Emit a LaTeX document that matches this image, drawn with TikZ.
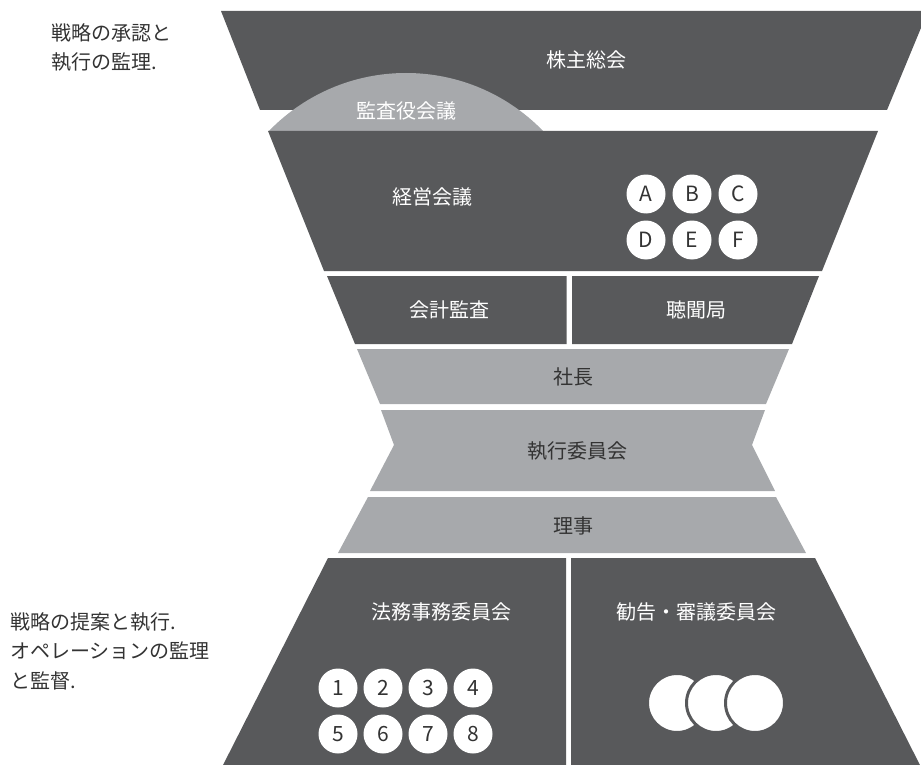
\documentclass[tikz,border=0pt]{standalone}
\usepackage{fontspec}
\setmainfont{Noto Sans CJK JP}
\definecolor{dk}{HTML}{58595B}
\definecolor{lt}{HTML}{A7A9AC}
\definecolor{tx}{HTML}{333333}
\begin{document}
\begin{tikzpicture}[x=1pt,y=-1pt,
  dkshape/.style={fill=dk,draw=none},
  ltshape/.style={fill=lt,draw=none},
  wlabel/.style={text=white,font=\fontsize{20}{24}\selectfont,inner sep=0},
  dlabel/.style={text=tx,font=\fontsize{20}{24}\selectfont,inner sep=0},
  badge/.style={circle,fill=white,text=tx,minimum size=39pt,inner sep=0,font=\fontsize{21}{24}\selectfont},
  bigdot/.style={circle,fill=white,draw=dk,line width=3pt,minimum size=59pt,inner sep=0},
  note/.style={text=tx,font=\fontsize{20}{29.5}\selectfont,align=left,anchor=west,inner sep=0}]
\useasboundingbox (0,0) rectangle (921,765);
\clip (0,0) rectangle (921,765);
% top trapezoid
\fill[dkshape] (221,11) -- (928,11) -- (887,110) -- (260,110) -- cycle;
% segment
\begin{scope}
  \clip (0,0) rectangle (921,131);
  \fill[ltshape] (406,264) circle[radius=191];
\end{scope}
% management
\fill[dkshape] (268,131) -- (878,131) -- (822,271) -- (324,271) -- cycle;
% audit / hearing
\fill[dkshape] (327,276) -- (566.5,276) -- (566.5,344) -- (355,344) -- cycle;
\fill[dkshape] (572,276) -- (819,276) -- (792,344) -- (572,344) -- cycle;
% president
\fill[ltshape] (357,349) -- (789,349) -- (766,404) -- (380,404) -- cycle;
% executive committee
\fill[ltshape] (381,410) -- (765,410) -- (752,445) -- (775,491) -- (370,491) -- (394,445) -- cycle;
% directors
\fill[ltshape] (368,497) -- (776,497) -- (806,553) -- (338,553) -- cycle;
% bottom
\fill[dkshape] (328,558) -- (566,558) -- (566,770) -- (220.5,770) -- cycle;
\fill[dkshape] (571,558) -- (815,558) -- (922.5,770) -- (571,770) -- cycle;

% labels
\node[wlabel] (agm) at (586,60) {株主総会};
\node[wlabel] (kansa) at (406,111) {監査役会議};
\node[wlabel] (keiei) at (432,197) {経営会議};
\node[wlabel] (kaikei) at (449,310) {会計監査};
\node[wlabel] (choumon) at (696,310) {聴聞局};
\node[dlabel] (shacho) at (573,377) {社長};
\node[dlabel] (shikko) at (577,451) {執行委員会};
\node[dlabel] (riji) at (573,526) {理事};
\node[wlabel] (houmu) at (441,612) {法務事務委員会};
\node[wlabel] (kankoku) at (696,612) {勧告・審議委員会};

% badges A-F
\node[badge] (bA) at (646,194) {A};
\node[badge] (bB) at (692,194) {B};
\node[badge] (bC) at (738,194) {C};
\node[badge] (bD) at (646,240) {D};
\node[badge] (bE) at (692,240) {E};
\node[badge] (bF) at (738,240) {F};

% badges 1-8
\node[badge] (n1) at (338,688) {1};
\node[badge] (n2) at (383,688) {2};
\node[badge] (n3) at (428,688) {3};
\node[badge] (n4) at (473,688) {4};
\node[badge] (n5) at (338,734) {5};
\node[badge] (n6) at (383,734) {6};
\node[badge] (n7) at (428,734) {7};
\node[badge] (n8) at (473,734) {8};

% big dots
\node[bigdot] (d1) at (677,703) {};
\node[bigdot] (d2) at (716,703) {};
\node[bigdot] (d3) at (755,703) {};

% side notes
\node[note] (topnote) at (51,47.5) {戦略の承認と\\執行の監理.};
\node[note] (botnote) at (10,651) {戦略の提案と執行.\\オペレーションの監理\\と監督.};
\end{tikzpicture}
\end{document}
